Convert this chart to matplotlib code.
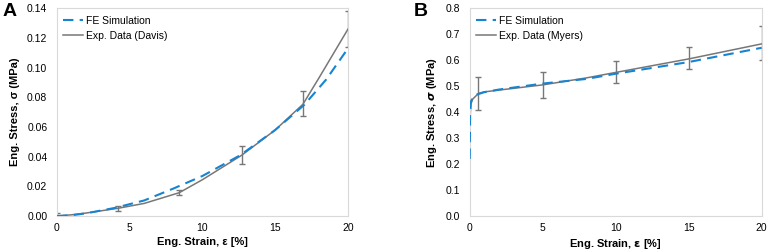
import matplotlib
matplotlib.use("Agg")
import matplotlib.pyplot as plt

plt.rcParams['font.family'] = ['Liberation Sans', 'DejaVu Sans']

# Panel A data
a_fe_x = [0, 1, 2, 4, 6, 8, 10, 12.6, 15, 17, 18.5, 20]
a_fe_y = [0.0, 0.0005, 0.0018, 0.0055, 0.0105, 0.0185, 0.027, 0.041, 0.058, 0.075, 0.092, 0.113]
a_ex_x = [0, 1, 2, 4.2, 6, 8.4, 10, 12.7, 15, 16.9, 18, 20]
a_ex_y = [0.0, 0.0008, 0.002, 0.0052, 0.0085, 0.0157, 0.0245, 0.041, 0.058, 0.0753, 0.093, 0.126]
a_err_x = [0, 4.2, 8.4, 12.7, 16.9, 20]
a_err_y = [0.0008, 0.0052, 0.0157, 0.041, 0.0757, 0.126]
a_err_e = [0.0012, 0.0016, 0.0017, 0.006, 0.0083, 0.012]

# Panel B data
b_fe_x = [0, 0.03, 0.08, 0.2, 0.5, 1, 2, 5, 8, 10, 15, 20]
b_fe_y = [0.22, 0.40, 0.44, 0.455, 0.468, 0.477, 0.487, 0.51, 0.528, 0.548, 0.593, 0.648]
b_ex_x = [0, 0.03, 0.08, 0.2, 0.6, 1, 2, 5, 8, 10, 15, 20]
b_ex_y = [0.0, 0.38, 0.43, 0.45, 0.472, 0.478, 0.485, 0.505, 0.532, 0.553, 0.605, 0.663]
b_err_x = [0.6, 5, 10, 15, 20]
b_err_y = [0.472, 0.506, 0.555, 0.608, 0.665]
b_err_e = [0.062, 0.05, 0.043, 0.042, 0.065]

blue = '#1684d2'
gray = '#777777'

fig = plt.figure(figsize=(7.68, 2.52), dpi=100)
axA = fig.add_axes([57/768, 1-216/252, (348-57)/768, (216-8.3)/252])
axB = fig.add_axes([469.7/768, 1-216/252, (761.7-469.7)/768, (216-8.3)/252])

def style(ax):
    for s in ax.spines.values():
        s.set_color('#d9d9d9')
        s.set_linewidth(0.8)
    ax.tick_params(axis='y', length=0, labelsize=7.5, pad=7, colors='#000000')
    ax.tick_params(axis='x', length=0, labelsize=7.5, pad=5, colors='#000000')

def legend(ax):
    ax.legend(loc='upper left', bbox_to_anchor=(0.007, 0.985), borderaxespad=0,
              frameon=False, fontsize=7.5, handlelength=1.9, handletextpad=0.3,
              labelspacing=0.5)

axA.plot(a_fe_x, a_fe_y, color=blue, lw=1.5, ls=(0, (5, 3)), label='FE Simulation', zorder=3)
axA.plot(a_ex_x, a_ex_y, color=gray, lw=1.1, label='Exp. Data (Davis)', zorder=2)
axA.errorbar(a_err_x, a_err_y, yerr=a_err_e, fmt='none', ecolor=gray, elinewidth=1, capsize=2, capthick=1, zorder=2)
axA.set_xlim(0, 20)
axA.set_ylim(0, 0.14)
axA.set_xticks([0, 5, 10, 15, 20])
axA.set_yticks([0, 0.02, 0.04, 0.06, 0.08, 0.10, 0.12, 0.14])
axA.set_yticklabels(['0.00', '0.02', '0.04', '0.06', '0.08', '0.10', '0.12', '0.14'])
axA.set_xlabel('Eng. Strain, ε [%]', fontsize=8, fontweight='bold', labelpad=3)
axA.set_ylabel('Eng. Stress, σ (MPa)', fontsize=8, fontweight='bold', labelpad=5)
style(axA)
legend(axA)

axB.plot(b_fe_x, b_fe_y, color=blue, lw=1.5, ls=(0, (5, 3)), label='FE Simulation', zorder=3)
axB.plot(b_ex_x, b_ex_y, color=gray, lw=1.1, label='Exp. Data (Myers)', zorder=2)
axB.errorbar(b_err_x, b_err_y, yerr=b_err_e, fmt='none', ecolor=gray, elinewidth=1, capsize=2, capthick=1, zorder=2)
axB.set_xlim(0, 20)
axB.set_ylim(0, 0.8)
axB.set_xticks([0, 5, 10, 15, 20])
axB.set_yticks([0, 0.1, 0.2, 0.3, 0.4, 0.5, 0.6, 0.7, 0.8])
axB.set_yticklabels(['0.0', '0.1', '0.2', '0.3', '0.4', '0.5', '0.6', '0.7', '0.8'])
axB.set_xlabel('Eng. Strain, $\\boldsymbol{\\varepsilon}$ [%]', fontsize=8, fontweight='bold', labelpad=3)
axB.set_ylabel('Eng. Stress, $\\boldsymbol{\\sigma}$ (MPa)', fontsize=8, fontweight='bold', labelpad=5)
style(axB)
legend(axB)

fig.text(3/768, 1-12/252, 'A', fontsize=14, fontweight='bold', va='center', ha='left')
fig.text(414/768, 1-12/252, 'B', fontsize=14, fontweight='bold', va='center', ha='left')

fig.savefig('out.png', dpi=100)
